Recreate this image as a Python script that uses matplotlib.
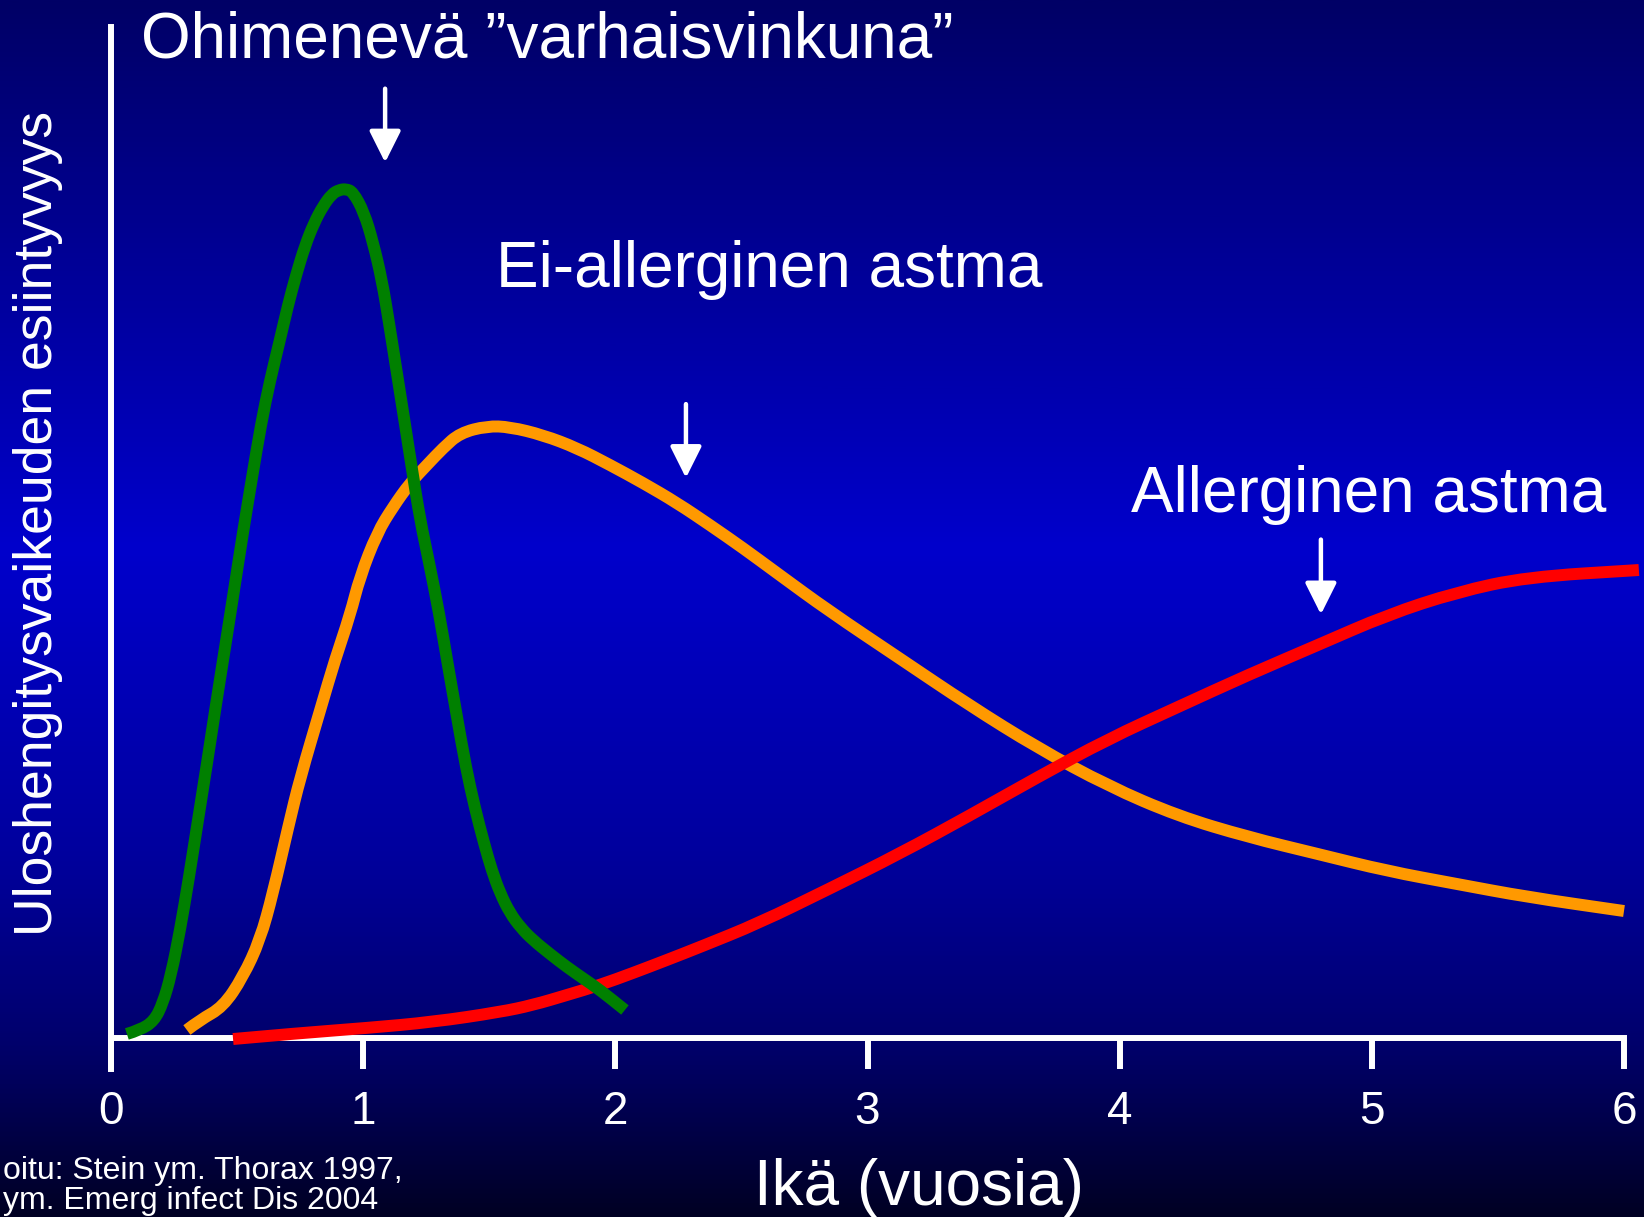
import numpy as np
import matplotlib
matplotlib.use("Agg")
import matplotlib.pyplot as plt
from matplotlib.colors import LinearSegmentedColormap
from matplotlib.path import Path
from matplotlib.patches import PathPatch

plt.rcParams['font.family'] = ['Liberation Sans', 'DejaVu Sans']

# ---------------- data (age in years, relative prevalence) ----------------
green_x = [0.063, 0.115, 0.171, 0.206, 0.238, 0.274, 0.309, 0.345, 0.381, 0.416,
           0.452, 0.488, 0.523, 0.559, 0.595, 0.631, 0.666, 0.702, 0.734, 0.769,
           0.805, 0.841, 0.876, 0.904, 0.932, 0.960, 1.003, 1.039, 1.075, 1.102,
           1.130, 1.162, 1.194, 1.226, 1.261, 1.301, 1.336, 1.372, 1.408, 1.443,
           1.479, 1.511, 1.543, 1.582, 1.626, 1.673, 1.741, 1.808, 1.876, 1.939, 2.038]
green_y = [0.40, 0.79, 1.68, 3.46, 6.23, 10.68, 15.83, 21.56, 27.20, 32.94,
           38.58, 44.31, 49.95, 55.39, 60.73, 65.08, 68.64, 72.50, 75.47, 78.34,
           80.61, 82.30, 83.48, 83.88, 83.98, 83.68, 81.70, 78.73, 74.88, 70.82,
           66.37, 61.33, 56.18, 51.24, 47.08, 42.04, 36.89, 31.75, 26.71, 22.75,
           19.29, 16.52, 14.34, 12.36, 10.88, 9.69, 8.31, 7.02, 5.84, 4.75, 2.77]

orange_x = [0.301, 0.353, 0.444, 0.523, 0.591, 0.642, 0.704, 0.750, 0.833, 0.888,
            0.948, 0.987, 1.055, 1.118, 1.186, 1.253, 1.317, 1.384, 1.491, 1.582,
            1.713, 1.848, 1.979, 2.110, 2.245, 2.375, 2.506, 2.641, 2.847, 3.125,
            3.402, 3.676, 3.954, 4.231, 4.509, 4.786, 5.060, 5.338, 5.615, 6.000]
orange_y = [0.79, 1.78, 3.07, 6.03, 9.69, 14.30, 21.00, 25.72, 32.74, 37.39,
            41.84, 45.60, 49.95, 52.52, 54.90, 56.68, 58.36, 59.84, 60.53, 60.44,
            59.64, 58.36, 56.68, 54.90, 52.92, 50.74, 48.47, 45.99, 42.24, 37.59,
            32.94, 28.68, 24.93, 21.96, 19.88, 18.20, 16.52, 15.23, 13.95, 12.56]

red_x = [0.484, 0.750, 1.015, 1.277, 1.543, 1.673, 1.808, 1.939, 2.070, 2.205,
         2.336, 2.570, 2.847, 3.125, 3.402, 3.676, 3.954, 4.231, 4.509, 4.786,
         5.060, 5.338, 5.615, 6.059]
red_y = [-0.10, 0.49, 0.99, 1.58, 2.57, 3.26, 4.25, 5.24, 6.43, 7.72,
         9.00, 11.37, 14.74, 18.20, 21.96, 25.82, 29.57, 32.74, 35.91, 38.87,
         41.84, 44.11, 45.60, 46.29]

x_ticks = [0, 1, 2, 3, 4, 5, 6]
x_tick_labels = ["0", "1", "2", "3", "4", "5", "6"]

title_text = "Ohimenevä ”varhaisvinkuna”"
label_nonallergic = "Ei-allerginen astma"
label_allergic = "Allerginen astma"
x_label = "Ikä (vuosia)"
y_label = "Uloshengitysvaikeuden esiintyvyys"
footnote_1 = "oitu: Stein ym. Thorax 1997,"
footnote_2 = "ym. Emerg infect Dis 2004"

# arrows: (x, y_start, y_tip) in data units
arrows = [(1.087, 93.9, 86.6), (2.280, 62.7, 55.4), (4.798, 49.3, 41.9)]

# ---------------- figure ----------------
W, H = 1644, 1217
fig = plt.figure(figsize=(W / 100, H / 100), dpi=100)

# background gradient
bg = fig.add_axes([0, 0, 1, 1], zorder=-10)
cmap = LinearSegmentedColormap.from_list(
    "bg", [(0.0, (0, 0, 0.40)), (0.45, (0, 0, 0.80)), (0.70, (0, 0, 0.62)),
           (0.86, (0, 0, 0.42)), (1.0, (0, 0, 0.14))])
grad = np.linspace(0, 1, 512).reshape(-1, 1)
bg.imshow(grad, aspect='auto', cmap=cmap, extent=[0, 1, 0, 1], origin='upper')
bg.set_axis_off()


def fx(px):
    return px / W


def fy(py):
    return 1 - py / H


# axes: x 0..6 maps to px 111..1624, y 0 at px 1038, 10.11 px per unit
ppx = (1624 - 111) / 6.0
ppy = 10.11
x_right = (W - 111) / ppx
y_bottom = -(1069 - 1038) / ppy
y_top = (1038 - 27) / ppy
ax = fig.add_axes([fx(111), fy(1069), (W - 111) / W, (1069 - 27) / H])
ax.set_xlim(0, x_right)
ax.set_ylim(y_bottom, y_top)
ax.patch.set_alpha(0)

for s in ['top', 'right']:
    ax.spines[s].set_visible(False)
ax.spines['left'].set_color('white')
ax.spines['left'].set_linewidth(4.3)
ax.spines['bottom'].set_color('white')
ax.spines['bottom'].set_linewidth(4.3)
ax.spines['bottom'].set_position(('data', 0))
ax.spines['bottom'].set_bounds(0, 6)
ax.spines['left'].set_capstyle('projecting')
ax.spines['bottom'].set_capstyle('projecting')

ax.set_xticks(x_ticks)
ax.set_xticklabels(x_tick_labels)
ax.set_yticks([])
ax.tick_params(axis='x', direction='out', length=22.3, width=4.3, color='white',
               labelcolor='white', labelsize=33, pad=15)


def smooth_curve(xs, ys, color, z):
    pts = list(zip(xs, ys))
    verts = [pts[0]]
    codes = [Path.MOVETO]
    for i in range(1, len(pts) - 1):
        mid = ((pts[i][0] + pts[i + 1][0]) / 2, (pts[i][1] + pts[i + 1][1]) / 2)
        verts += [pts[i], mid]
        codes += [Path.CURVE3, Path.CURVE3]
    verts.append(pts[-1])
    codes.append(Path.LINETO)
    patch = PathPatch(Path(verts, codes), facecolor='none', edgecolor=color,
                      lw=8.6, capstyle='butt', joinstyle='round', zorder=z,
                      clip_on=False, transform=ax.transData)
    ax.add_patch(patch)


smooth_curve(orange_x, orange_y, '#FF9900', 4)
smooth_curve(red_x, red_y, '#FF0000', 5)
smooth_curve(green_x, green_y, '#008000', 6)

for (xa, y0, y1) in arrows:
    ax.annotate("", xy=(xa, y1), xytext=(xa, y0),
                arrowprops=dict(arrowstyle='-|>,head_length=0.4,head_width=0.2',
                                color='white', lw=3.2, mutation_scale=48,
                                shrinkA=0, shrinkB=0), zorder=7)

# texts
fig.text(fx(141), fy(58), title_text, color='white', fontsize=46, ha='left', va='baseline')
fig.text(fx(496), fy(287), label_nonallergic, color='white', fontsize=46, ha='left', va='baseline')
fig.text(fx(1131), fy(512), label_allergic, color='white', fontsize=46, ha='left', va='baseline')
fig.text(fx(754), fy(1205), x_label, color='white', fontsize=46, ha='left', va='baseline')
fig.text(fx(38), fy(524), y_label, color='white', fontsize=38.5, rotation=90,
         ha='center', va='center')
fig.text(fx(3), fy(1179), footnote_1, color='white', fontsize=23, ha='left', va='baseline')
fig.text(fx(3), fy(1209), footnote_2, color='white', fontsize=23, ha='left', va='baseline')

fig.savefig("out.png", dpi=100)
